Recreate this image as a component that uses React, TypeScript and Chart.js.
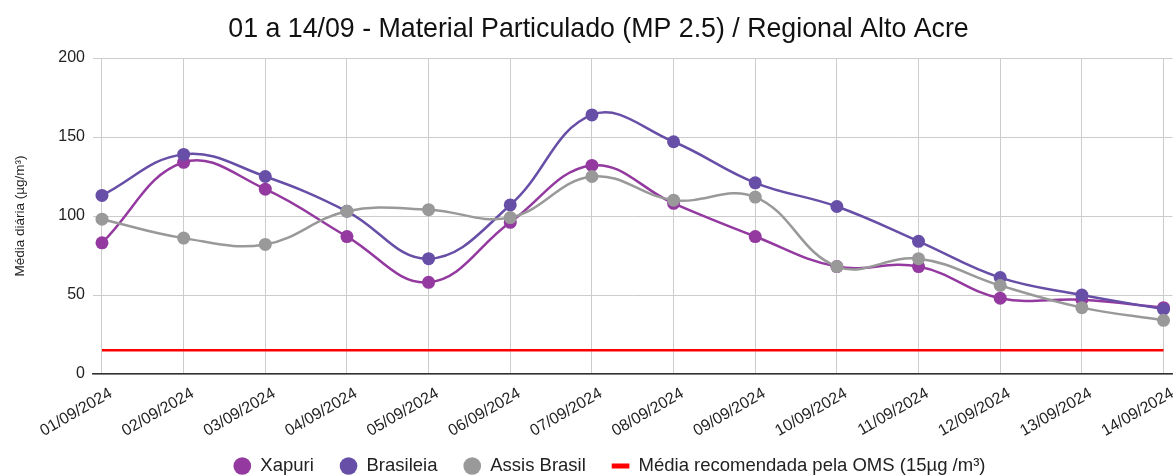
import React, { useEffect, useRef } from 'react';
import { Chart, registerables } from 'chart.js';
Chart.register(...registerables);

const dates = [
  '01/09/2024', '02/09/2024', '03/09/2024', '04/09/2024', '05/09/2024', '06/09/2024', '07/09/2024',
  '08/09/2024', '09/09/2024', '10/09/2024', '11/09/2024', '12/09/2024', '13/09/2024', '14/09/2024',
];
const xapuri = [83, 134, 117, 87, 58, 96, 132, 108, 87, 68, 68, 48, 47, 42];
const brasileia = [113, 139, 125, 103, 73, 107, 164, 147, 121, 106, 84, 61, 50, 41];
const assisBrasil = [98, 86, 82, 103, 104, 99, 125, 110, 112, 68, 73, 56, 42, 34];
const oms = [15, 15, 15, 15, 15, 15, 15, 15, 15, 15, 15, 15, 15, 15];
const yTicks = [0, 50, 100, 150, 200];

const FONT = 'Arial, "Liberation Sans", sans-serif';

const shiftPlugin = {
  id: 'shiftBlocks',
  afterLayout(chart: any) {
    const lg = chart.legend;
    if (lg) {
      lg.top -= 11.25;
      lg.bottom -= 11.25;
      lg.left += 20;
      lg.right += 20;
    }
    const tb = chart.titleBlock;
    if (tb) {
      tb.left += 9;
      tb.right += 9;
    }
  },
};

export default function App() {
  const ref = useRef<HTMLCanvasElement>(null);
  useEffect(() => {
    document.body.style.margin = '0';
    document.body.style.overflow = 'hidden';
    const toPts = (arr: number[]) => arr.map((y, i) => ({ x: i, y }));
    const series = (label: string, arr: number[], color: string) => ({
      label,
      data: toPts(arr),
      borderColor: color,
      backgroundColor: color,
      borderWidth: 2.5,
      pointRadius: 6.5,
      pointHoverRadius: 6.5,
      pointBorderWidth: 0,
      tension: 0.4,
      pointStyle: 'circle' as const,
    });
    Chart.defaults.font.family = FONT;
    const chart = new Chart(ref.current!, {
      type: 'line',
      plugins: [shiftPlugin],
      data: {
        datasets: [
          {
            label: 'Média recomendada pela OMS (15µg /m³)',
            data: toPts(oms),
            borderColor: '#ff0000',
            backgroundColor: '#ff0000',
            borderWidth: 2.5,
            pointRadius: 0,
            tension: 0,
            pointStyle: 'line' as const,
            order: 10,
          },
          series('Assis Brasil', assisBrasil, '#999999'),
          series('Brasileia', brasileia, '#674ea7'),
          series('Xapuri', xapuri, '#93399f'),
        ],
      },
      options: {
        animation: false,
        responsive: true,
        maintainAspectRatio: false,
        layout: { padding: { left: 0, right: 0, top: 0, bottom: -20.5 } },
        plugins: {
          title: {
            display: true,
            text: '01 a 14/09 - Material Particulado (MP 2.5) / Regional Alto Acre',
            color: '#111',
            font: { size: 26.75, weight: 'normal', family: FONT },
            padding: { top: 13.4, bottom: 12.5 },
          },
          legend: {
            position: 'bottom',
            labels: {
              usePointStyle: true,
              boxWidth: 17.5,
              boxHeight: 12.5,
              color: '#222',
              font: { size: 18.5, family: FONT },
              padding: 26,
              generateLabels: (c: any) => {
                const order = [3, 2, 1, 0];
                return order.map((i) => {
                  const ds = c.data.datasets[i];
                  const isLine = i === 0;
                  return {
                    text: ds.label,
                    fillStyle: ds.borderColor,
                    strokeStyle: ds.borderColor,
                    lineWidth: isLine ? 5 : 0,
                    pointStyle: isLine ? 'line' : 'circle',
                    hidden: false,
                    datasetIndex: i,
                    fontColor: '#222',
                  };
                });
              },
            },
          },
          tooltip: { enabled: false },
        },
        scales: {
          x: {
            type: 'linear',
            min: -0.11,
            max: 13.11,
            afterBuildTicks: (s: any) => {
              s.ticks = dates.map((_, i) => ({ value: i }));
            },
            afterFit: (s: any) => {
              s.height = 68;
              s.paddingRight = 0;
              s.paddingLeft = 0;
            },
            ticks: {
              autoSkip: false,
              minRotation: 30,
              maxRotation: 30,
              color: '#222',
              font: { size: 16, family: FONT },
              padding: 10,
              labelOffset: 9,
              callback: (v: any) => dates[Math.round(Number(v))] ?? '',
            },
            grid: { color: '#cccccc', drawTicks: false, lineWidth: 1 },
            border: { display: true, color: '#333333', width: 1.5 },
          },
          y: {
            min: 0,
            max: 200,
            afterBuildTicks: (s: any) => {
              s.ticks = yTicks.map((v) => ({ value: v }));
            },
            afterFit: (s: any) => {
              s.width = 93;
            },
            ticks: {
              color: '#222',
              font: { size: 16, family: FONT },
              padding: 8,
            },
            grid: { color: '#cccccc', drawTicks: false, lineWidth: 1 },
            border: { display: false },
            title: {
              display: true,
              text: 'Média diária (µg/m³)',
              color: '#222',
              font: { size: 13.5, family: FONT },
              padding: { top: 12, bottom: 0 },
            },
          },
        },
      },
    });
    return () => chart.destroy();
  }, []);
  return (
    <div style={{ width: 1179, height: 476, position: 'relative' }}>
      <canvas ref={ref} />
    </div>
  );
}
